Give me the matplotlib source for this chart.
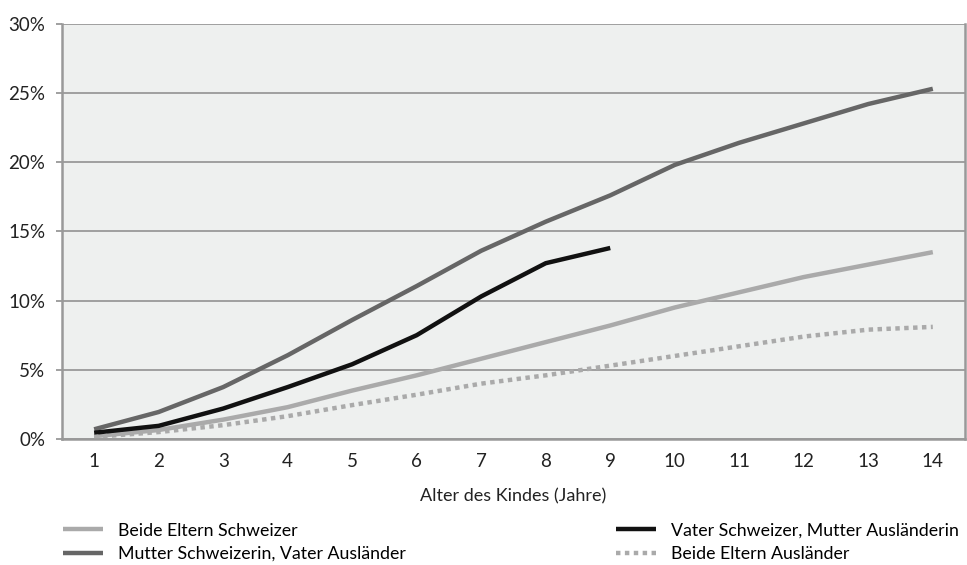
import matplotlib.pyplot as plt
from matplotlib.ticker import FuncFormatter

plt.rcParams['font.family'] = ['Lato', 'DejaVu Sans']

# Alter des Kindes
alter = list(range(1, 15))

# Anteile in %
beide_schweizer = [0.2, 0.65, 1.4, 2.3, 3.5, 4.6, 5.8, 7.0, 8.2, 9.5, 10.6, 11.7, 12.6, 13.5]
mutter_ch_vater_ausl = [0.7, 1.95, 3.75, 6.05, 8.6, 11.05, 13.6, 15.7, 17.6, 19.8, 21.4, 22.8, 24.2, 25.3]
vater_ch_mutter_ausl = [0.45, 0.95, 2.2, 3.75, 5.4, 7.5, 10.3, 12.7, 13.8]
beide_auslaender = [0.15, 0.5, 1.0, 1.65, 2.45, 3.2, 4.0, 4.6, 5.3, 6.0, 6.7, 7.4, 7.9, 8.1]

fig = plt.figure(figsize=(9.67, 5.65), dpi=100)
ax = fig.add_axes([0.064, 0.223, 0.934, 0.735])
ax.set_facecolor('#eef0ef')

l1, = ax.plot(alter, beide_schweizer, color='#aaaaaa', lw=3.2, solid_capstyle='butt')
l2, = ax.plot(alter, mutter_ch_vater_ausl, color='#666666', lw=3.2, solid_capstyle='butt')
l3, = ax.plot(alter[:len(vater_ch_mutter_ausl)], vater_ch_mutter_ausl, color='#111111', lw=3.2,
              solid_capstyle='butt')
l4, = ax.plot(alter, beide_auslaender, color='#aaaaaa', lw=3.2, linestyle=(0, (1, 1)),
              dash_capstyle='butt')

ax.set_xlim(0.5, 14.5)
ax.set_ylim(0, 30)
ax.set_xticks(alter)
ax.set_yticks(range(0, 31, 5))
ax.yaxis.set_major_formatter(FuncFormatter(lambda v, p: f'{int(v)}%'))
ax.grid(axis='y', color='#999999', lw=1.3)
ax.set_axisbelow(True)
for s in ax.spines.values():
    s.set_color('#999999')
    s.set_linewidth(1.8)
ax.spines['top'].set_visible(False)
ax.tick_params(axis='x', length=0, pad=10, labelsize=13.5, colors='#222222')
ax.tick_params(axis='y', length=4, width=1.3, color='#999999', pad=8, labelsize=13.5,
               labelcolor='#222222')
ax.set_xlabel('Alter des Kindes (Jahre)', fontsize=13, color='#222222', labelpad=13)

leg_kw = dict(frameon=False, fontsize=12.8, handlelength=2.25, handletextpad=0.85,
              labelspacing=0.42, loc='upper left', borderaxespad=0, borderpad=0)
fig.legend([l1, l2], ['Beide Eltern Schweizer', 'Mutter Schweizerin, Vater Ausländer'],
           bbox_to_anchor=(0.065, 0.075), **leg_kw)
fig.legend([l3, l4], ['Vater Schweizer, Mutter Ausländerin', 'Beide Eltern Ausländer'],
           bbox_to_anchor=(0.637, 0.075), **leg_kw)

fig.savefig('out.png', dpi=100)
